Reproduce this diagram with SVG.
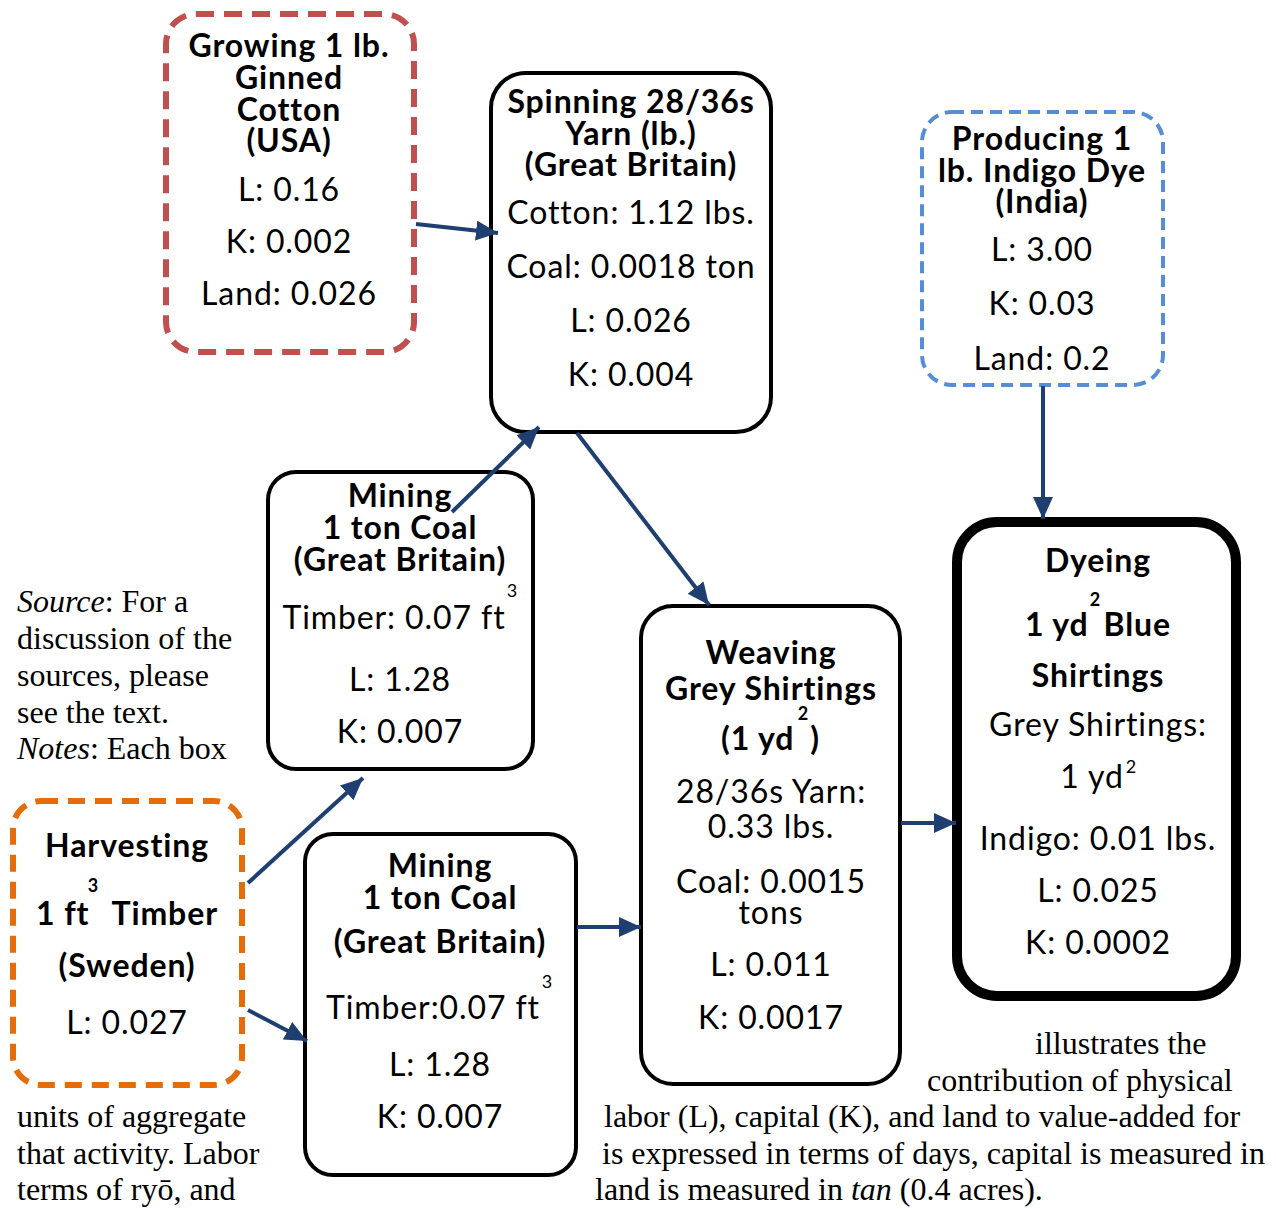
<svg xmlns="http://www.w3.org/2000/svg" width="1276" height="1209" viewBox="0 0 1276 1209">
<defs>
<style>
.b{font-family:Lato,"Open Sans",sans-serif;font-weight:bold;font-size:32px;letter-spacing:0.9px;text-anchor:middle;fill:#000}
.r{font-family:Lato,"Open Sans",sans-serif;font-size:32px;letter-spacing:0.9px;text-anchor:middle;fill:#000}
.sb{font-family:Lato,"Open Sans",sans-serif;font-weight:bold;font-size:18px;text-anchor:middle}
.sr{font-family:Lato,"Open Sans",sans-serif;font-size:18px;text-anchor:middle}
.s{font-family:"Liberation Serif","Times New Roman",serif;font-size:32px;fill:#000}
.box{fill:#fff;stroke:#000;stroke-width:4}
.con line{stroke:#1F3F70;stroke-width:4;marker-end:url(#ah)}
</style>
<marker id="ah" markerUnits="userSpaceOnUse" markerWidth="24" markerHeight="22" refX="22" refY="10" orient="auto" viewBox="0 0 24 22">
<path d="M0,0 L22,10 L0,20 z" fill="#1F3F70"/>
</marker>
</defs>
<rect width="1276" height="1209" fill="#fff"/>

<g id="caption">
<text class="s" x="17" y="612"><tspan font-style="italic">Source</tspan>: For a</text>
<text class="s" x="17" y="649">discussion of the</text>
<text class="s" x="17" y="686">sources, please</text>
<text class="s" x="17" y="723">see the text.</text>
<text class="s" x="17" y="759"><tspan font-style="italic">Notes</tspan>: Each box</text>
<text class="s" x="17" y="1127">units of aggregate</text>
<text class="s" x="17" y="1164">that activity. Labor</text>
<text class="s" x="17" y="1200">terms of ryō, and</text>
<text class="s" x="1035" y="1054">illustrates the</text>
<text class="s" x="927" y="1091">contribution of physical</text>
<text class="s" x="604" y="1127">labor (L), capital (K), and land to value-added for</text>
<text class="s" x="602" y="1164">is expressed in terms of days, capital is measured in</text>
<text class="s" x="595" y="1200">land is measured in <tspan font-style="italic">tan</tspan> (0.4 acres).</text>
</g>

<g id="cotton">
<rect x="166" y="14" width="248" height="338" rx="30" fill="#fff" stroke="#C0504D" stroke-width="6" stroke-dasharray="18 10"/>
<text class="b" x="289" y="57">Growing 1 lb.</text>
<text class="b" x="289" y="89">Ginned</text>
<text class="b" x="289" y="121">Cotton</text>
<text class="b" x="289" y="152">(USA)</text>
<text class="r" x="289" y="201">L: 0.16</text>
<text class="r" x="289" y="253">K: 0.002</text>
<text class="r" x="289" y="305">Land: 0.026</text>
</g>

<g id="spinning">
<rect class="box" x="491" y="73" width="280" height="359" rx="35"/>
<text class="b" x="631" y="113">Spinning 28/36s</text>
<text class="b" x="631" y="145">Yarn (lb.)</text>
<text class="b" x="631" y="176">(Great Britain)</text>
<text class="r" x="631" y="224">Cotton: 1.12 lbs.</text>
<text class="r" x="631" y="278">Coal: 0.0018 ton</text>
<text class="r" x="631" y="332">L: 0.026</text>
<text class="r" x="631" y="386">K: 0.004</text>
</g>

<g id="indigo">
<rect x="922" y="112" width="241" height="273" rx="30" fill="#fff" stroke="#558ED5" stroke-width="4" stroke-dasharray="12 7"/>
<text class="b" x="1042" y="150">Producing 1</text>
<text class="b" x="1042" y="182">lb. Indigo Dye</text>
<text class="b" x="1042" y="213">(India)</text>
<text class="r" x="1042" y="261">L: 3.00</text>
<text class="r" x="1042" y="315">K: 0.03</text>
<text class="r" x="1042" y="370">Land: 0.2</text>
</g>

<g id="mining1">
<rect class="box" x="268" y="472" width="265" height="297" rx="28"/>
<text class="b" x="400" y="507">Mining</text>
<text class="b" x="400" y="539">1 ton Coal</text>
<text class="b" x="400" y="571">(Great Britain)</text>
<text class="sr" x="512" y="597">3</text>
<text class="r" x="394" y="629">Timber: 0.07 ft</text>
<text class="r" x="400" y="691">L: 1.28</text>
<text class="r" x="400" y="743">K: 0.007</text>
</g>

<g id="harvesting">
<rect x="13" y="801" width="229" height="284" rx="28" fill="#fff" stroke="#E46C0A" stroke-width="6" stroke-dasharray="17 10"/>
<text class="b" x="127" y="857">Harvesting</text>
<text class="sb" x="93" y="892">3</text>
<text class="b" x="36" y="925" style="text-anchor:start">1 ft</text>
<text class="b" x="218" y="925" style="text-anchor:end">Timber</text>
<text class="b" x="127" y="977">(Sweden)</text>
<text class="r" x="127" y="1034">L: 0.027</text>
</g>

<g id="mining2">
<rect class="box" x="305" y="834" width="271" height="341" rx="28"/>
<text class="b" x="440" y="877">Mining</text>
<text class="b" x="440" y="909">1 ton Coal</text>
<text class="b" x="440" y="953">(Great Britain)</text>
<text class="sr" x="547" y="988">3</text>
<text class="r" x="433" y="1019">Timber:0.07 ft</text>
<text class="r" x="440" y="1076">L: 1.28</text>
<text class="r" x="440" y="1128">K: 0.007</text>
</g>

<g id="weaving">
<rect class="box" x="641" y="606" width="259" height="478" rx="32"/>
<text class="b" x="771" y="664">Weaving</text>
<text class="b" x="771" y="700">Grey Shirtings</text>
<text class="sb" x="803" y="720">2</text>
<text class="b" x="721" y="750" style="text-anchor:start">(1 yd</text>
<text class="b" x="820" y="750" style="text-anchor:end">)</text>
<text class="r" x="771" y="803">28/36s Yarn:</text>
<text class="r" x="771" y="838">0.33 lbs.</text>
<text class="r" x="771" y="893">Coal: 0.0015</text>
<text class="r" x="771" y="924">tons</text>
<text class="r" x="771" y="976">L: 0.011</text>
<text class="r" x="771" y="1029">K: 0.0017</text>
</g>

<g id="dyeing">
<rect x="957" y="522" width="279" height="474" rx="40" fill="#fff" stroke="#000" stroke-width="10"/>
<text class="b" x="1098" y="572">Dyeing</text>
<text class="sb" x="1095" y="606">2</text>
<text class="b" x="1025" y="636" style="text-anchor:start">1 yd</text>
<text class="b" x="1171" y="636" style="text-anchor:end">Blue</text>
<text class="b" x="1098" y="687">Shirtings</text>
<text class="r" x="1098" y="736">Grey Shirtings:</text>
<text class="r" x="1092" y="788">1 yd</text>
<text class="sr" x="1131" y="773">2</text>
<text class="r" x="1098" y="850">Indigo: 0.01 lbs.</text>
<text class="r" x="1098" y="902">L: 0.025</text>
<text class="r" x="1098" y="954">K: 0.0002</text>
</g>

<g id="connectors" class="con">
<line x1="416" y1="224" x2="498" y2="233"/>
<line x1="452" y1="512" x2="539" y2="427"/>
<line x1="577" y1="433" x2="709" y2="605"/>
<line x1="1043" y1="386" x2="1043" y2="519"/>
<line x1="248" y1="883" x2="363" y2="778"/>
<line x1="248" y1="1010" x2="307" y2="1041"/>
<line x1="577" y1="927" x2="641" y2="927"/>
<line x1="901" y1="823" x2="956" y2="823"/>
</g>
</svg>
